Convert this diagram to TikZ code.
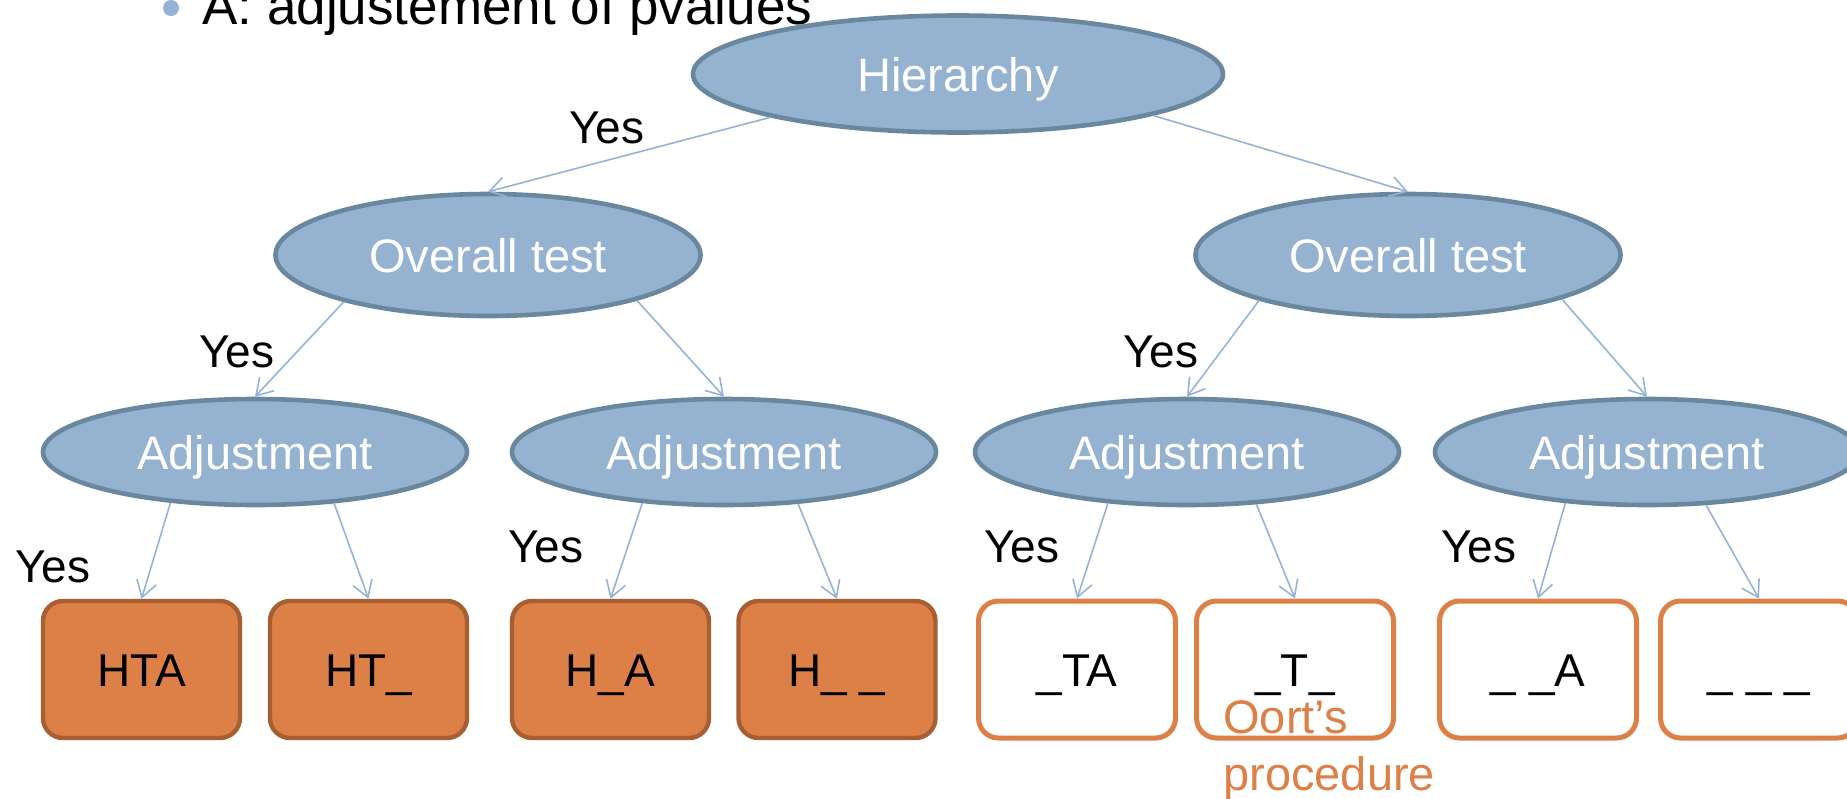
\documentclass[tikz,border=0pt]{standalone}
\usepackage{fontspec}
\setmainfont{Liberation Sans}
\usepackage{tikz}
\usetikzlibrary{shapes.geometric, arrows.meta, positioning}
\definecolor{ovalblue}{RGB}{149,179,208}
\definecolor{ovalrim}{RGB}{106,135,160}
\definecolor{linkblue}{RGB}{149,179,215}
\definecolor{leaforange}{RGB}{221,128,71}
\definecolor{leafrim}{RGB}{166,94,51}

\begin{document}
\begin{tikzpicture}[
    x=0.5pt, y=-0.5pt,
    oval/.style={ellipse, draw=ovalrim, fill=ovalblue, line width=2.3pt, inner sep=0pt, text=white, text height=17pt, text depth=0pt, font=\fontsize{23.5}{28}\selectfont},
    leaf/.style={rectangle, rounded corners=10pt, draw=leafrim, fill=leaforange, line width=2.2pt, minimum width=98.5pt, minimum height=68.5pt, inner sep=0pt, text height=17pt, text depth=0pt, font=\fontsize{23}{28}\selectfont},
    leafopen/.style={leaf, draw=leaforange, fill=white, line width=2.5pt},
    yes/.style={inner sep=0pt, anchor=base, font=\fontsize{23}{28}\selectfont},
    note/.style={inner sep=0pt, align=left, text=leaforange, font=\fontsize{23.5}{28.5}\selectfont},
    arrow/.style={-{Straight Barb[length=8pt,width=10pt]}, linkblue, line width=0.8pt}
]
\useasboundingbox (0,0) rectangle (1847,798);
\clip (0,0) rectangle (1847,798);

% Slide bullet (cut off at the top)
\node[circle, fill=linkblue, minimum size=8pt, inner sep=0pt] (dot) at (171,8) {};
\node[anchor=base west, inner sep=0pt, font=\fontsize{26.5}{32}\selectfont] (topic) at (202,24) {A: adjustement of pvalues};

% Tests
\node[oval, minimum width=265pt, minimum height=58.5pt] (hier) at (958,74) {Hierarchy};
\node[oval, minimum width=212.5pt, minimum height=61pt] (overL) at (488,255) {Overall test};
\node[oval, minimum width=212.5pt, minimum height=61pt] (overR) at (1408,255) {Overall test};
\node[oval, minimum width=212pt, minimum height=53pt] (adjA) at (255,452) {Adjustment};
\node[oval, minimum width=212pt, minimum height=53pt] (adjB) at (724,452) {Adjustment};
\node[oval, minimum width=212pt, minimum height=53pt] (adjC) at (1187,452) {Adjustment};
\node[oval, minimum width=212pt, minimum height=53pt] (adjD) at (1647,452) {Adjustment};

% Outcomes
\node[leaf] (hta) at (141.5,669.5) {HTA};
\node[leaf] (ht) at (368.5,669.5) {HT\_};
\node[leaf] (ha) at (610.5,669.5) {H\_A};
\node[leaf] (h) at (837,669.5) {H\_ \_};
\node[leafopen] (ta) at (1077,669.5) {\_TA};
\node[leafopen] (t) at (1295,669.5) {\_T\_};
\node[leafopen] (a) at (1538,669.5) {\_ \_A};
\node[leafopen] (none) at (1759,669.5) {\_ \_ \_};

% Arrows
\draw[arrow] (hier.-167.5) -- (overL.north);
\draw[arrow] (hier.-12.5) -- (overR.north);
\draw[arrow] (overL.-162.7) -- (adjA.north);
\draw[arrow] (overL.-17.4) -- (adjB.north);
\draw[arrow] (overR.-163) -- (adjC.north);
\draw[arrow] (overR.-16.8) -- (adjD.north);
\draw[arrow] (adjA.-149) -- (hta.north);
\draw[arrow] (adjA.-33.4) -- (ht.north);
\draw[arrow] (adjB.-148.2) -- (ha.north);
\draw[arrow] (adjB.-35.8) -- (h.north);
\draw[arrow] (adjC.-147.3) -- (ta.north);
\draw[arrow] (adjC.-37.3) -- (t.north);
\draw[arrow] (adjD.-148.8) -- (a.north);
\draw[arrow] (adjD.-42) -- (none.north);

% Yes labels
\node[yes] (yesTop) at (607,143) {Yes};
\node[yes] (yesL) at (237,367) {Yes};
\node[yes] (yesR) at (1161,367) {Yes};
\node[yes] (yesA) at (53,582) {Yes};
\node[yes] (yesB) at (546,562) {Yes};
\node[yes] (yesC) at (1022,562) {Yes};
\node[yes] (yesD) at (1479,562) {Yes};

% Procedure note
\node[note, anchor=base west] (oort) at (1223,790) {Oort's\\procedure};

\end{tikzpicture}
\end{document}
